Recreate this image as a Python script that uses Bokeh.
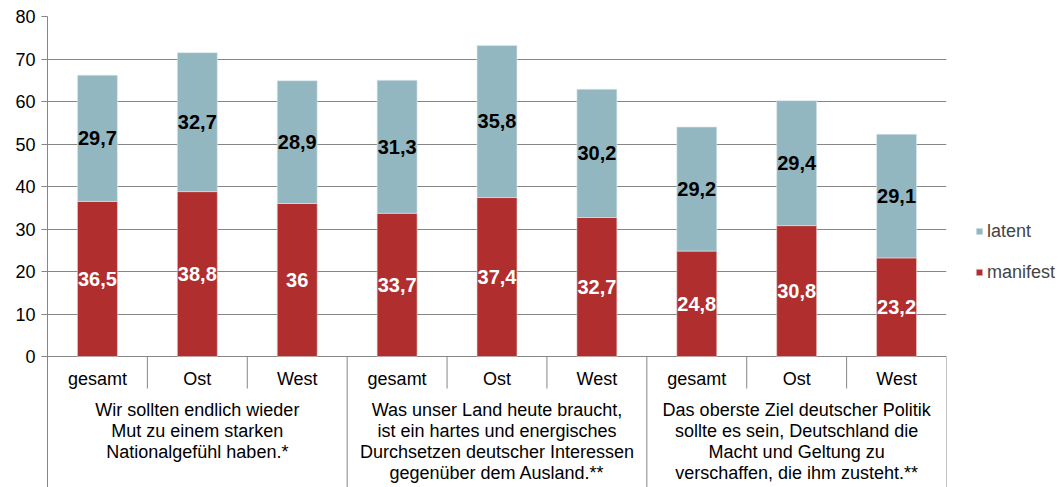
from bokeh.plotting import figure
from bokeh.models import (Range1d, FixedTicker, ColumnDataSource, Legend, LegendItem)
from bokeh.core.properties import value
from bokeh.embed import file_html
from bokeh.resources import INLINE

# ---- data ----
groups = [
    "Wir sollten endlich wieder\nMut zu einem starken\nNationalgefühl haben.*",
    "Was unser Land heute braucht,\nist ein hartes und energisches\nDurchsetzen deutscher Interessen\ngegenüber dem Ausland.**",
    "Das oberste Ziel deutscher Politik\nsollte es sein, Deutschland die\nMacht und Geltung zu\nverschaffen, die ihm zusteht.**",
]
subgroups = ["gesamt", "Ost", "West"]
manifest = [36.5, 38.8, 36.0, 33.7, 37.4, 32.7, 24.8, 30.8, 23.2]
latent = [29.7, 32.7, 28.9, 31.3, 35.8, 30.2, 29.2, 29.4, 29.1]
y_ticks = [0, 10, 20, 30, 40, 50, 60, 70, 80]

# ---- styling ----
FONT = "Liberation Sans"
RED = "#B02E2E"
BLUE = "#93B7C0"
GRAY = "#868686"

FRAME_W = 899
FRAME_H = 471
Y_END = 80
PX_PER_UNIT = 340 / 80.0
Y_START = Y_END - FRAME_H / PX_PER_UNIT


def px(n):
    """screen pixels below y=0 -> data units"""
    return -n / PX_PER_UNIT


n = len(groups) * len(subgroups)
xs = [i + 0.5 for i in range(n)]
tops = [m + l for m, l in zip(manifest, latent)]


def fmt(v):
    s = ("%.1f" % v).replace(".", ",")
    return s[:-2] if s.endswith(",0") else s


src = ColumnDataSource(dict(
    x=xs, manifest=manifest, latent=latent, top=tops,
    mmid=[m / 2 for m in manifest],
    lmid=[m + l / 2 for m, l in zip(manifest, latent)],
    mlab=[fmt(v) for v in manifest],
    llab=[fmt(v) for v in latent],
))

p = figure(frame_width=FRAME_W, frame_height=FRAME_H,
           x_range=Range1d(0, n), y_range=Range1d(Y_START, Y_END),
           x_axis_type=None, output_backend="svg", toolbar_location=None,
           min_border_left=47, min_border_top=16, min_border_bottom=0,
           min_border_right=0)
p.outline_line_color = None
p.background_fill_color = "white"
p.border_fill_color = "white"

# grid
p.ygrid.ticker = FixedTicker(ticks=y_ticks)
p.ygrid.grid_line_color = GRAY
p.ygrid.grid_line_width = 1
p.xgrid.visible = False

# y axis
p.yaxis.ticker = FixedTicker(ticks=y_ticks)
p.yaxis.axis_line_color = GRAY
p.yaxis.major_tick_line_color = GRAY
p.yaxis.major_tick_out = 6
p.yaxis.major_tick_in = 0
p.yaxis.minor_tick_line_color = None
p.yaxis.major_label_standoff = 6
p.yaxis.major_label_text_font = FONT
p.yaxis.major_label_text_font_size = "18px"
p.yaxis.major_label_text_color = "#000000"

# bars
r_man = p.vbar(x="x", bottom=0, top="manifest", width=0.4, source=src,
               fill_color=RED, line_color="#e8d0d0", line_width=0.6)
r_lat = p.vbar(x="x", bottom="manifest", top="top", width=0.4, source=src,
               fill_color=BLUE, line_color="#dde9ec", line_width=0.6)

# data labels
p.text(x="x", y="mmid", text="mlab", source=src, text_align="center",
       text_baseline="middle", text_font=value(FONT), text_font_size="20px",
       text_font_style="bold", text_color="white")
p.text(x="x", y="lmid", text="llab", source=src, text_align="center",
       text_baseline="middle", text_font=value(FONT), text_font_size="20px",
       text_font_style="bold", text_color="black")

# category axis: separators
sub_bounds = [i for i in range(1, n) if i % len(subgroups) != 0]
grp_bounds = [i * len(subgroups) for i in range(1, len(groups) + 1)]
p.segment(x0=sub_bounds, x1=sub_bounds, y0=[0] * len(sub_bounds),
          y1=[px(32)] * len(sub_bounds), line_color=GRAY, line_width=1)
p.segment(x0=grp_bounds, x1=grp_bounds, y0=[0] * len(grp_bounds),
          y1=[Y_START] * len(grp_bounds), line_color=GRAY, line_width=1)

# sub labels
p.text(x=xs, y=[px(22)] * n, text=[subgroups[i % 3] for i in range(n)],
       text_align="center", text_baseline="middle", text_font=value(FONT),
       text_font_size="18px", text_color="black")

# group labels
gx = [i * len(subgroups) + len(subgroups) / 2 for i in range(len(groups))]
p.text(x=gx, y=[px(43)] * len(groups), text=groups, text_align="center",
       text_baseline="top", text_font=value(FONT), text_font_size="18px",
       text_color="black", text_line_height=1.06)

# legend
legend = Legend(items=[LegendItem(label="latent", renderers=[r_lat]),
                       LegendItem(label="manifest", renderers=[r_man])],
                location="center_left", orientation="vertical",
                label_text_font=FONT, label_text_font_size="18px",
                glyph_width=8, glyph_height=8, label_height=20,
                label_standoff=4, spacing=20, padding=0, margin=29,
                border_line_color=None, background_fill_alpha=0)
p.add_layout(legend, "right")

open("out.html", "w").write(file_html(p, INLINE))
